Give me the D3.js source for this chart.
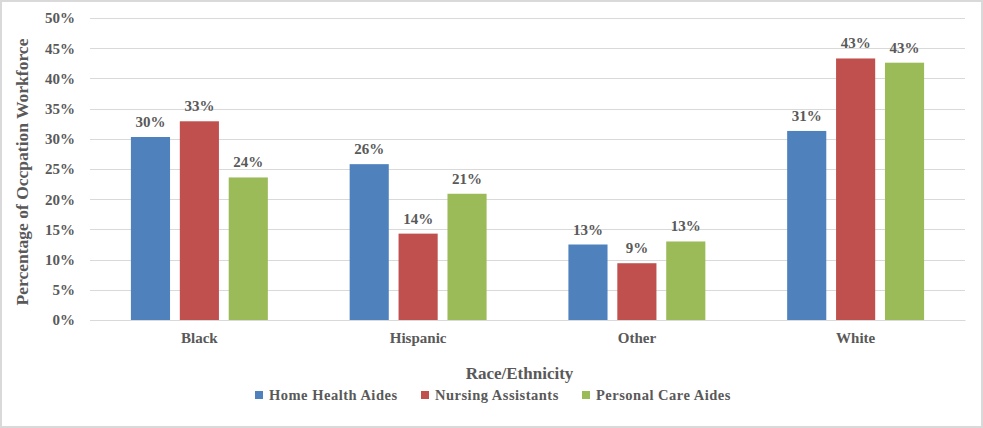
<!DOCTYPE html>
<html>
<head>
<meta charset="utf-8">
<script src="https://cdn.jsdelivr.net/npm/d3@7"></script>
<style>
  html, body { margin: 0; padding: 0; background: #fff; }
  svg { display: block; }
  text { font-family: "Liberation Serif", "Times New Roman", serif; font-weight: bold; fill: #595959; }
</style>
</head>
<body>
<svg id="chart" width="983" height="428"></svg>
<script>
const categories = ["Black", "Hispanic", "Other", "White"];
const seriesNames = ["Home Health Aides", "Nursing Assistants", "Personal Care Aides"];
const homeHealthAides = [0.303, 0.258, 0.125, 0.313];
const nursingAssistants = [0.329, 0.143, 0.094, 0.433];
const personalCareAides = [0.236, 0.209, 0.130, 0.426];
const yTicks = [0, 0.05, 0.10, 0.15, 0.20, 0.25, 0.30, 0.35, 0.40, 0.45, 0.50];
const colors = ["#4f81bd", "#c0504d", "#9bbb59"];

const seriesValues = [homeHealthAides, nursingAssistants, personalCareAides];

const W = 983, H = 428;
const margin = { left: 90, right: 18, top: 18, bottom: 108 };
const svg = d3.select("#chart");

// outer border
svg.append("rect").attr("x", 1).attr("y", 1).attr("width", W - 2).attr("height", H - 2)
  .attr("fill", "#fff").attr("stroke", "#d9d9d9").attr("stroke-width", 2);

const x0 = d3.scaleBand().domain(categories)
  .range([margin.left, W - margin.right]).paddingInner(0.374).paddingOuter(0.187);
const x1 = d3.scaleBand().domain(seriesNames)
  .range([0, x0.bandwidth()]).paddingInner(0.2).paddingOuter(0);
const y = d3.scaleLinear().domain([0, 0.5]).range([H - margin.bottom, margin.top]);

// gridlines
svg.append("g").selectAll("line").data(yTicks).join("line")
  .attr("x1", margin.left).attr("x2", W - margin.right)
  .attr("y1", d => Math.round(y(d)) + 0.5).attr("y2", d => Math.round(y(d)) + 0.5)
  .attr("stroke", "#d9d9d9").attr("stroke-width", 1);

// y axis labels
const yAxis = d3.axisLeft(y).tickValues(yTicks).tickFormat(d3.format(".0%")).tickSize(0).tickPadding(0);
const yg = svg.append("g").attr("transform", `translate(${75},0)`).call(yAxis);
yg.select(".domain").remove();
yg.selectAll("text").style("font-size", "15px").style("font-family", "Liberation Serif").style("font-weight", "bold").attr("fill", "#595959");

// bars
const groups = svg.append("g").selectAll("g").data(categories).join("g")
  .attr("transform", d => `translate(${x0(d)},0)`);

groups.each(function(cat, ci) {
  const g = d3.select(this);
  const data = seriesNames.map((s, si) => ({ s, si, v: seriesValues[si][ci] }));
  g.selectAll("rect").data(data).join("rect")
    .attr("x", d => x1(d.s)).attr("width", x1.bandwidth())
    .attr("y", d => y(d.v)).attr("height", d => y(0) - y(d.v))
    .attr("fill", d => colors[d.si]);
  g.selectAll("text.lbl").data(data).join("text").attr("class", "lbl")
    .attr("x", d => x1(d.s) + x1.bandwidth() / 2).attr("y", d => y(d.v) - 10)
    .attr("text-anchor", "middle").style("font-size", "15px")
    .text(d => d3.format(".0%")(d.v));
});

// x axis
const xAxis = d3.axisBottom(x0).tickSize(0).tickPadding(0);
const xg = svg.append("g").attr("transform", `translate(0,${y(0)})`).call(xAxis);
xg.select(".domain").attr("stroke", "#d9d9d9");
xg.selectAll("text").attr("dy", "23px").style("font-size", "15px").style("font-family", "Liberation Serif").style("font-weight", "bold").attr("fill", "#595959");

// axis titles
svg.append("text").attr("x", (margin.left + W - margin.right) / 2 - 8).attr("y", 379)
  .attr("text-anchor", "middle").style("font-size", "17px").text("Race/Ethnicity");
svg.append("text").attr("transform", `translate(28,${(y(0) + y(0.5)) / 2 + 3}) rotate(-90)`)
  .attr("text-anchor", "middle").style("font-size", "17.5px").text("Percentage of Occpation Workforce");

// legend
const legendX = [255, 421, 582];
const lg = svg.append("g").selectAll("g").data(seriesNames).join("g")
  .attr("transform", (d, i) => `translate(${legendX[i]},395)`);
lg.append("rect").attr("x", 0).attr("y", -4).attr("width", 8).attr("height", 8)
  .attr("fill", (d, i) => colors[i]);
lg.append("text").attr("x", 14).attr("y", 5).style("font-size", "14.5px").style("letter-spacing", "0.5px").text(d => d);
</script>
</body>
</html>
